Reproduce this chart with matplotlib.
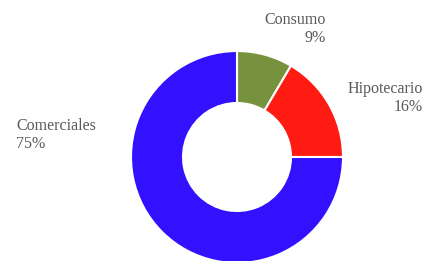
import matplotlib
matplotlib.use("Agg")
import matplotlib.pyplot as plt

# shares of the portfolio
labels = ["Consumo", "Hipotecario", "Comerciales"]
values = [8.5, 16.5, 75.0]
shown_pct = ["9%", "16%", "75%"]
colors = ["#76923C", "#FF1A12", "#3311FF"]

W, H = 425, 261
fig = plt.figure(figsize=(W / 100, H / 100), dpi=100)
ax = fig.add_axes([0, 0, 1, 1])

# donut, drawn in pixel-like data units
ax.pie(values, colors=colors, startangle=90, counterclock=False,
       center=(237, H - 157), radius=106,
       wedgeprops=dict(width=52, edgecolor="white", linewidth=1.5))
ax.set_xlim(0, W)
ax.set_ylim(0, H)
ax.set_aspect("equal")
ax.axis("off")

font = dict(family="Liberation Serif", size=11.5, color="#595959", linespacing=1.2)

# label placement: (x, baseline of last line, horizontal alignment)
label_pos = [(326, H - 42, "right"), (423, H - 111, "right"), (16, H - 148, "left")]
for name, pct, (x, y, ha) in zip(labels, shown_pct, label_pos):
    ax.text(x, y, f"{name}\n{pct}", ha=ha, va="baseline", multialignment=ha, **font)

fig.savefig("out.png", dpi=100)
